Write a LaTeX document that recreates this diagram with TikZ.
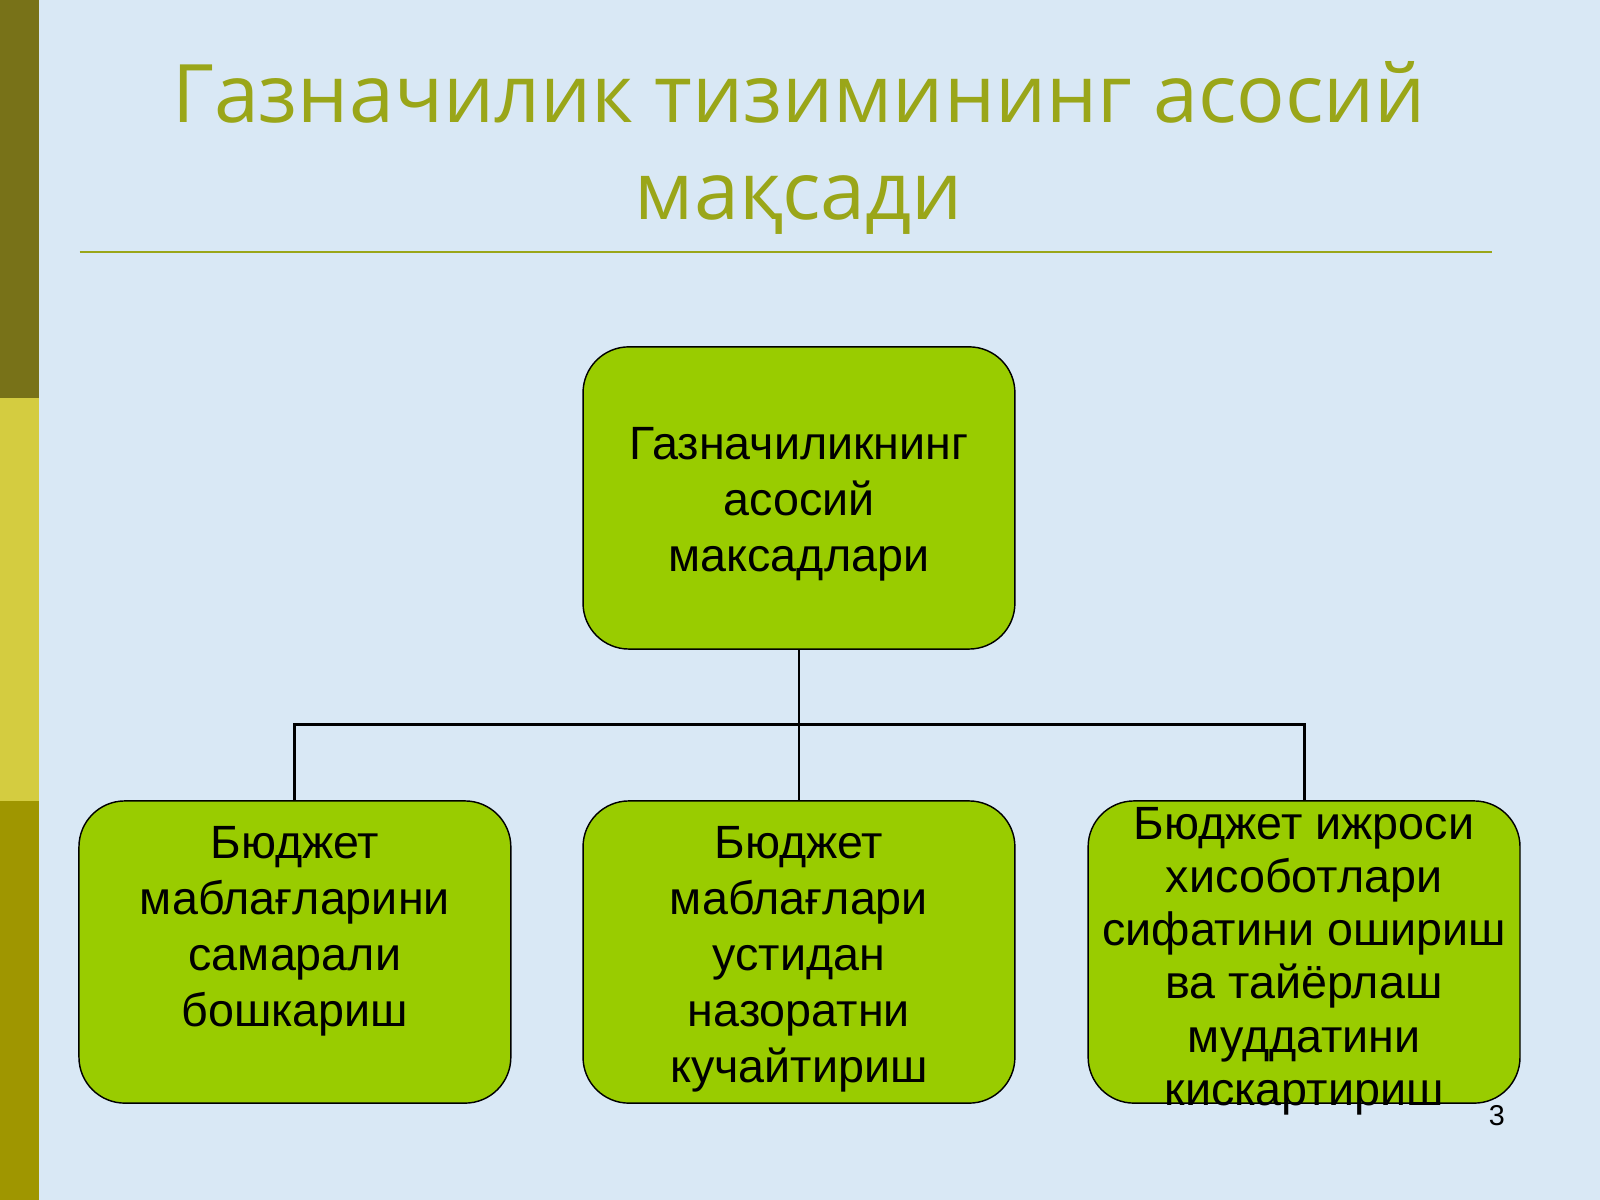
\documentclass[tikz,border=0pt]{standalone}
\usepackage{fontspec}
\setmainfont{Liberation Sans}
\newfontfamily\titlefont{Open Sans}
\definecolor{slidebg}{HTML}{D9E8F5}
\definecolor{titlegreen}{HTML}{9AA619}
\definecolor{boxgreen}{HTML}{99CC00}
\tikzset{
  goal/.style={draw=black, fill=boxgreen, rounded corners=0.45cm, minimum width=4.23cm,
    minimum height=2.96cm, inner sep=0pt},
  goaltext/.style={align=center, inner sep=0pt, font=\fontsize{13}{15.6}\selectfont},
  link/.style={thick}
}
\begin{document}
\begin{tikzpicture}[x=0.01cm, y=-0.01cm]
  \fill[slidebg] (0,0) rectangle (1568,1176);
  \useasboundingbox (0,0) rectangle (1568,1176);
  \fill[olive!80!black] (0,0) rectangle (38,390);
  \fill[olive!55!yellow!70] (0,390) rectangle (38,785);
  \fill[olive!85!yellow] (0,785) rectangle (38,1176);
  % title
  \node[text=titlegreen, align=center, font=\titlefont\fontsize{22.5}{27}\selectfont] (title) at (783,145)
    {Газначилик тизимининг асосий\\мақсади};
  \draw[titlegreen, thick] (78,247) -- (1462,247);
  % boxes
  \node[goal] (main) at (783,488) {};
  \node[goal] (left) at (289,933) {};
  \node[goal] (mid) at (783,933) {};
  \node[goal] (right) at (1278,933) {};
  \node[goaltext] (mainT) at (783,494) {Газначиликнинг\\асосий\\максадлари};
  \node[goaltext] (leftT) at (289,913) {Бюджет\\маблағларини\\самарали\\бошкариш};
  \node[goaltext] (midT) at (783,940) {Бюджет\\маблағлари\\устидан\\назоратни\\кучайтириш};
  \node[goaltext, font=\fontsize{13}{14.8}\selectfont] (rightT) at (1278,942)
    {Бюджет ижроси\\хисоботлари\\сифатини ошириш\\ва тайёрлаш\\муддатини\\кискартириш};
  % connectors
  \coordinate (fork) at (783,710);
  \draw[link] (main.south) -- (fork);
  \draw[link] (left.north) |- (fork) -| (right.north);
  \draw[link] (fork) -- (mid.north);
  \node[font=\fontsize{8}{10}\selectfont] (page) at (1467,1093) {3};
\end{tikzpicture}
\end{document}
